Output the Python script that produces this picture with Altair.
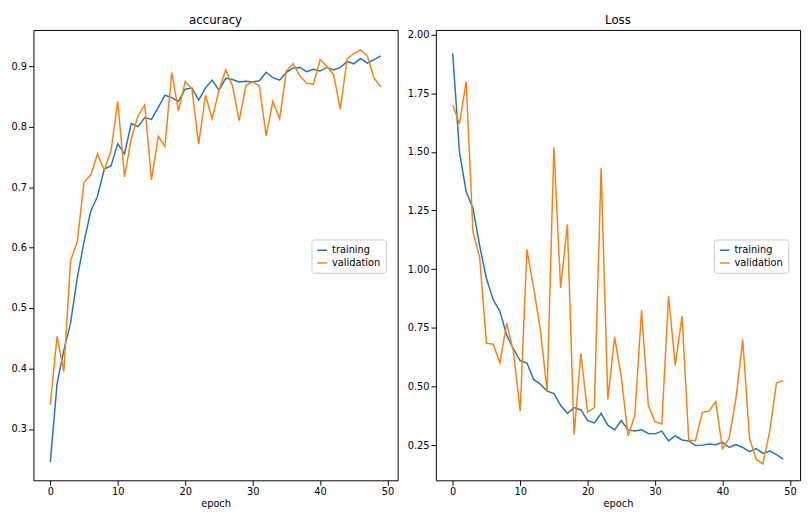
import altair as alt
import pandas as pd

epochs = list(range(50))
acc_train = [0.245, 0.375, 0.43, 0.475, 0.55, 0.61, 0.66, 0.685, 0.73, 0.735,
             0.772, 0.755, 0.805, 0.80, 0.815, 0.812, 0.832, 0.852, 0.848, 0.842,
             0.862, 0.864, 0.844, 0.864, 0.877, 0.86, 0.88, 0.878, 0.874, 0.875,
             0.874, 0.876, 0.89, 0.881, 0.877, 0.89, 0.897, 0.898, 0.891, 0.895,
             0.892, 0.898, 0.894, 0.898, 0.908, 0.904, 0.913, 0.905, 0.911, 0.917]
acc_val = [0.34, 0.453, 0.395, 0.578, 0.61, 0.708, 0.72, 0.755, 0.728, 0.76,
           0.842, 0.717, 0.78, 0.818, 0.836, 0.712, 0.784, 0.767, 0.89, 0.826,
           0.875, 0.862, 0.771, 0.852, 0.813, 0.86, 0.894, 0.868, 0.81, 0.868,
           0.874, 0.867, 0.785, 0.842, 0.813, 0.892, 0.904, 0.884, 0.872, 0.87,
           0.911, 0.9, 0.886, 0.829, 0.912, 0.921, 0.927, 0.917, 0.88, 0.866]
loss_train = [1.92, 1.5, 1.33, 1.26, 1.1, 0.96, 0.87, 0.82, 0.72, 0.66,
              0.61, 0.60, 0.53, 0.51, 0.48, 0.47, 0.42, 0.385, 0.41, 0.40,
              0.355, 0.345, 0.385, 0.335, 0.315, 0.355, 0.315, 0.31, 0.315, 0.30,
              0.298, 0.31, 0.268, 0.29, 0.272, 0.268, 0.248, 0.25, 0.255, 0.252,
              0.262, 0.24, 0.252, 0.24, 0.222, 0.235, 0.215, 0.225, 0.21, 0.19]
loss_val = [1.70, 1.62, 1.80, 1.16, 1.05, 0.685, 0.68, 0.60, 0.77, 0.65,
            0.395, 1.085, 0.92, 0.74, 0.48, 1.52, 0.92, 1.19, 0.295, 0.64,
            0.39, 0.41, 1.43, 0.445, 0.71, 0.54, 0.29, 0.375, 0.825, 0.42,
            0.35, 0.34, 0.885, 0.59, 0.80, 0.27, 0.27, 0.39, 0.395, 0.435,
            0.235, 0.28, 0.45, 0.70, 0.28, 0.19, 0.17, 0.31, 0.515, 0.525]


def long(train, val):
    return pd.DataFrame({
        "epoch": epochs + epochs,
        "value": train + val,
        "series": ["training"] * 50 + ["validation"] * 50,
    })


def panel(df, title, ydom, yticks, fmt):
    return alt.Chart(df, title=title).mark_line(strokeWidth=1.5).encode(
        x=alt.X("epoch:Q", title="epoch",
                scale=alt.Scale(domain=[-2.5, 51.5], nice=False, zero=False),
                axis=alt.Axis(values=[0, 10, 20, 30, 40, 50])),
        y=alt.Y("value:Q", title=None,
                scale=alt.Scale(domain=ydom, nice=False, zero=False),
                axis=alt.Axis(values=yticks, format=fmt)),
        color=alt.Color("series:N", title=None,
                        scale=alt.Scale(domain=["training", "validation"],
                                        range=["#1f77b4", "#ff7f0e"]),
                        legend=alt.Legend(orient="none", legendX=284, legendY=214,
                                          symbolType="stroke", strokeColor="#cccccc",
                                          fillColor="white", padding=5,
                                          cornerRadius=3, labelFontSize=10)),
    ).properties(width=372, height=460)


left = panel(long(acc_train, acc_val), "accuracy", [0.215, 0.96],
             [0.3, 0.4, 0.5, 0.6, 0.7, 0.8, 0.9], ".1f")
right = panel(long(loss_train, loss_val), "Loss", [0.10, 2.02],
              [0.25, 0.5, 0.75, 1.0, 1.25, 1.5, 1.75, 2.0], ".2f")

chart = alt.hconcat(left, right, spacing=8).resolve_scale(color="independent").configure_axis(
    grid=False, domain=False, tickColor="black", labelColor="black",
    labelFontSize=10, titleFontSize=10, titleFontWeight="normal",
    labelFont="DejaVu Sans", titleFont="DejaVu Sans", titlePadding=2
).configure_view(stroke="black", strokeWidth=1).configure_title(
    fontSize=12, fontWeight="normal", font="DejaVu Sans", offset=3
).configure_legend(labelFont="DejaVu Sans").properties(
    padding={"left": 2, "right": 2, "top": 0, "bottom": 0})

chart.save("out.html", embed_options={"renderer": "svg", "actions": False})
